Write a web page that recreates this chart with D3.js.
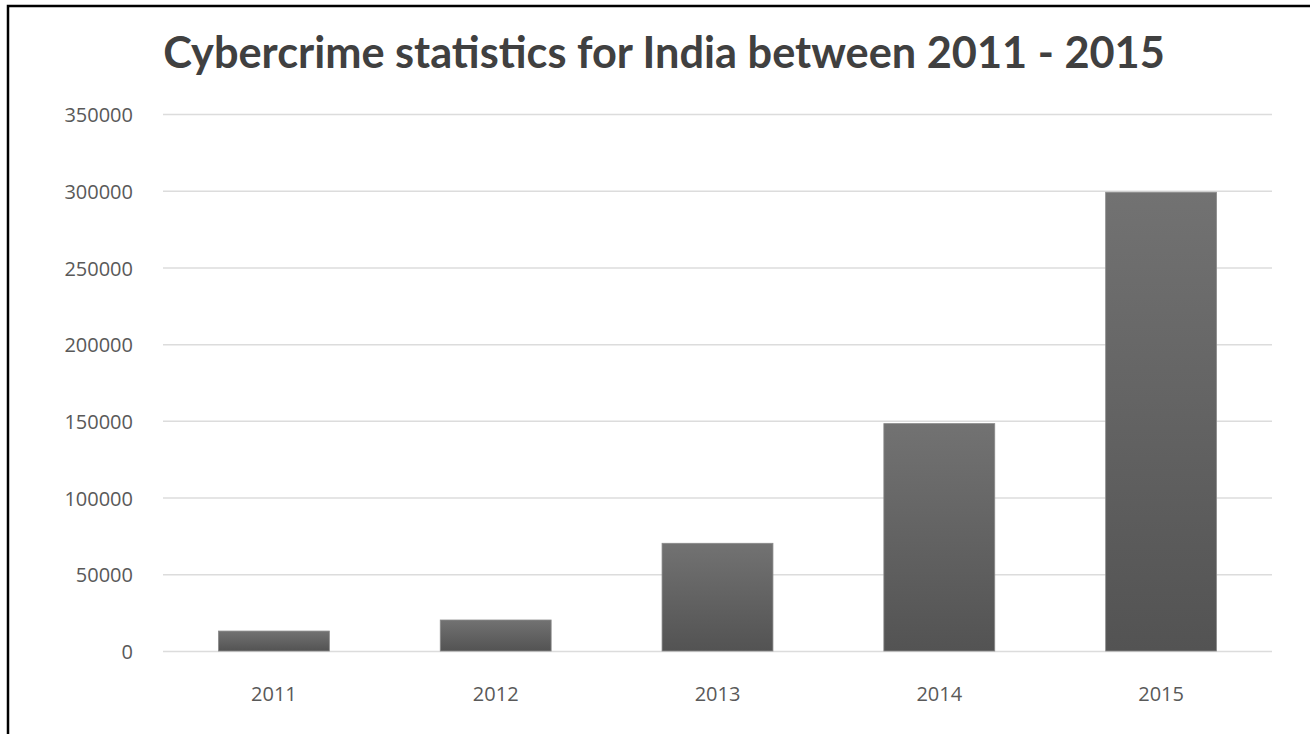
<!DOCTYPE html>
<html lang="en">
<head>
<meta charset="UTF-8">
<title>Cybercrime statistics for India</title>
<script src="https://d3js.org/d3.v7.min.js"></script>
<style>
  body { margin: 0; background: #ffffff; }
  svg { display: block; }
</style>
</head>
<body>
<div id="chart"></div>
<script>
// data
var years = ["2011", "2012", "2013", "2014", "2015"];
var cases = [13000, 20200, 70200, 148200, 299000];
var yTicks = [0, 50000, 100000, 150000, 200000, 250000, 300000, 350000];
var titleText = "Cybercrime statistics for India between 2011 - 2015";

var W = 1310, H = 734;
var margin = {top: 114, right: 38, bottom: 83, left: 163},
    width = W - margin.left - margin.right,
    height = H - margin.top - margin.bottom;

var svg = d3.select("#chart").append("svg")
    .attr("width", W)
    .attr("height", H);

// bar gradient
var grad = svg.append("defs").append("linearGradient")
    .attr("id", "barGrad")
    .attr("x1", 0).attr("y1", 0).attr("x2", 0).attr("y2", 1);
grad.append("stop").attr("offset", "0%").attr("stop-color", "#727272");
grad.append("stop").attr("offset", "100%").attr("stop-color", "#535353");

// outer frame (left + top only, as in the picture)
svg.append("path")
    .attr("d", "M8,734 L8,6 L1310,6")
    .attr("fill", "none")
    .attr("stroke", "#000")
    .attr("stroke-width", 2.5);

// title
var title = svg.append("text")
    .attr("x", 664)
    .attr("y", 68)
    .attr("text-anchor", "middle")
    .style("font-family", "Lato, 'Open Sans', sans-serif")
    .style("font-weight", "bold")
    .style("font-size", "40px")
    .style("fill", "#404040")
    .text(titleText);
// fit title to the width it has in the picture
var tw = title.node().getComputedTextLength();
title.style("font-size", (40 * 1002 / tw) + "px");

var g = svg.append("g")
    .attr("transform", "translate(" + margin.left + "," + margin.top + ")");

var x = d3.scaleBand()
    .domain(years)
    .range([0, width])
    .paddingInner(0.5)
    .paddingOuter(0.25);

var y = d3.scaleLinear()
    .domain([0, 350000])
    .range([height, 0]);

// gridlines
g.append("g")
    .call(d3.axisLeft(y).tickValues(yTicks).tickSize(-width).tickFormat(""))
    .call(function(s) {
      s.select(".domain").remove();
      s.selectAll(".tick line").attr("stroke", "#dcdcdc").attr("stroke-width", 1.5);
    });

var labelFont = "'Open Sans', 'DejaVu Sans', sans-serif";

// y tick labels
g.append("g")
    .call(d3.axisLeft(y).tickValues(yTicks).tickSize(0).tickPadding(30).tickFormat(d3.format("d")))
    .call(function(s) {
      s.select(".domain").remove();
      s.selectAll("text")
        .attr("dy", "0.38em")
        .style("font-family", labelFont)
        .style("font-size", "20px")
        .style("fill", "#595959");
    });

// x tick labels
g.append("g")
    .attr("transform", "translate(0," + height + ")")
    .call(d3.axisBottom(x).tickSize(0).tickPadding(36))
    .call(function(s) {
      s.select(".domain").remove();
      s.selectAll("text")
        .style("font-family", labelFont)
        .style("font-size", "20px")
        .style("fill", "#595959");
    });

// bars
g.selectAll(".bar")
    .data(years)
    .enter()
    .append("rect")
    .attr("class", "bar")
    .attr("x", function(d) { return x(d); })
    .attr("y", function(d, i) { return y(cases[i]); })
    .attr("width", x.bandwidth())
    .attr("height", function(d, i) { return height - y(cases[i]); })
    .attr("fill", "url(#barGrad)")
    .attr("stroke", "#8a8a8a")
    .attr("stroke-width", 0.8);
</script>
</body>
</html>
